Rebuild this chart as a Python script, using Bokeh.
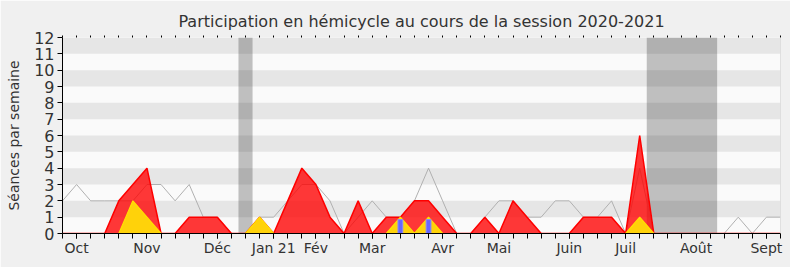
from bokeh.plotting import figure
from bokeh.models import FixedTicker, LinearAxis, Range1d, Span
from bokeh.embed import file_html
from bokeh.resources import INLINE

# ---- data (weekly, week 0 = start of session) ----
weeks = list(range(52))
seances_total = [2, 3, 2, 2, 2, 2, 3, 3, 2, 3, 1, 1, 0, 0, 1, 1, 2, 3, 3, 2,
                 0, 1, 2, 1, 1, 2, 4, 2, 0, 0, 1, 2, 2, 1, 1, 2, 2, 1, 1, 2,
                 0, 4, 0, 0, 0, 0, 0, 0, 1, 0, 1, 1]
participation = [0, 0, 0, 0, 2, 3, 4, 0, 0, 1, 1, 1, 0, 0, 1, 0, 2, 4, 3, 1,
                 0, 2, 0, 1, 1, 2, 2, 1, 0, 0, 1, 0, 2, 1, 0, 0, 0, 1, 1, 1,
                 0, 6, 0, 0, 0, 0, 0, 0, 0, 0, 0, 0]
interventions = [0, 0, 0, 0, 0, 2, 1, 0, 0, 0, 0, 0, 0, 0, 1, 0, 0, 0, 0, 0,
                 0, 0, 0, 0, 1, 0, 1, 0, 0, 0, 0, 0, 0, 0, 0, 0, 0, 0, 0, 0,
                 0, 1, 0, 0, 0, 0, 0, 0, 0, 0, 0, 0]
question_weeks = [24, 26]
questions = [0.85, 0.85]
month_weeks = [1, 6, 11, 15, 18, 22, 27, 31, 36, 40, 45, 50]
month_labels = ["Oct", "Nov", "Déc", "Jan 21", "Fév", "Mar", "Avr", "Mai",
                "Juin", "Juil", "Août", "Sept"]
break_start = [12.5, 41.5]
break_end = [13.5, 46.5]
y_ticks = list(range(13))

FONT = "DejaVu Sans"

p = figure(width=790, height=267, output_backend="svg", toolbar_location=None,
           x_range=Range1d(0, 51), y_range=Range1d(0, 12),
           title="Participation en hémicycle au cours de la session 2020-2021")
p.min_border_left = 62
p.min_border_right = 10
p.min_border_top = 37
p.min_border_bottom = 34
p.background_fill_color = "#fafafa"
p.border_fill_color = "#f0f0f0"
p.outline_line_color = None
p.xgrid.visible = False
p.ygrid.visible = False

p.title.align = "center"
p.title.text_font = FONT
p.title.text_font_size = "16px"
p.title.text_font_style = "normal"
p.title.text_color = "#333333"

# vacation bands
p.quad(left=break_start, right=break_end, bottom=0, top=12,
       fill_color="#bfbfbf", line_color=None)

# horizontal stripes
stripe_bottoms = y_ticks[1:12:2]
p.quad(left=0, right=51, bottom=stripe_bottoms, top=[b + 1 for b in stripe_bottoms],
       fill_color="black", fill_alpha=0.08, line_color=None)

p.add_layout(Span(location=51, dimension="height", line_color="#c8c8c8", line_width=1))

# series
p.line(weeks, seances_total, line_color="#b0b0b0", line_width=1)
p.varea(x=weeks, y1=0, y2=participation, fill_color="#ff0000", fill_alpha=0.78)
p.line(weeks, participation, line_color="#ff0000", line_width=1.5)
p.varea(x=weeks, y1=0, y2=interventions, fill_color="#ffd20a", fill_alpha=1.0)
p.line(weeks, interventions, line_color="#ffe000", line_width=1.2)
p.vbar(x=question_weeks, top=questions, width=0.34, bottom=0,
       fill_color="#6666ff", line_color="#8a8aff", line_width=1)

# axes
xa = p.xaxis[0]
xa.ticker = FixedTicker(ticks=month_weeks, minor_ticks=weeks)
xa.major_label_overrides = {w: lab for w, lab in zip(month_weeks, month_labels)}
xa.major_tick_out = 5
xa.major_tick_in = 0
xa.major_tick_line_color = "#000000"
xa.minor_tick_out = 5
xa.minor_tick_in = 0
xa.minor_tick_line_color = "#000000"
xa.axis_line_color = "#000000"
xa.major_label_text_font = FONT
xa.major_label_text_font_size = "14px"
xa.major_label_text_color = "#333333"
xa.major_label_standoff = 1

ya = p.yaxis[0]
ya.ticker = FixedTicker(ticks=y_ticks)
ya.minor_tick_line_color = None
ya.major_tick_out = 5
ya.major_tick_in = 0
ya.axis_line_color = "#000000"
ya.major_tick_line_color = "#000000"
ya.major_label_text_font = FONT
ya.major_label_text_font_size = "16px"
ya.major_label_text_color = "#333333"
ya.major_label_standoff = 3
ya.axis_label = "Séances par semaine"
ya.axis_label_text_font = FONT
ya.axis_label_text_font_size = "14px"
ya.axis_label_text_font_style = "normal"
ya.axis_label_text_color = "#333333"
ya.axis_label_standoff = 9

top = LinearAxis(ticker=FixedTicker(ticks=[], minor_ticks=weeks), axis_line_color=None,
                 major_tick_line_color=None,
                 minor_tick_out=2, minor_tick_in=0, minor_tick_line_color="#000000")
p.add_layout(top, "above")

open("out.html", "w").write(file_html(p, INLINE))
